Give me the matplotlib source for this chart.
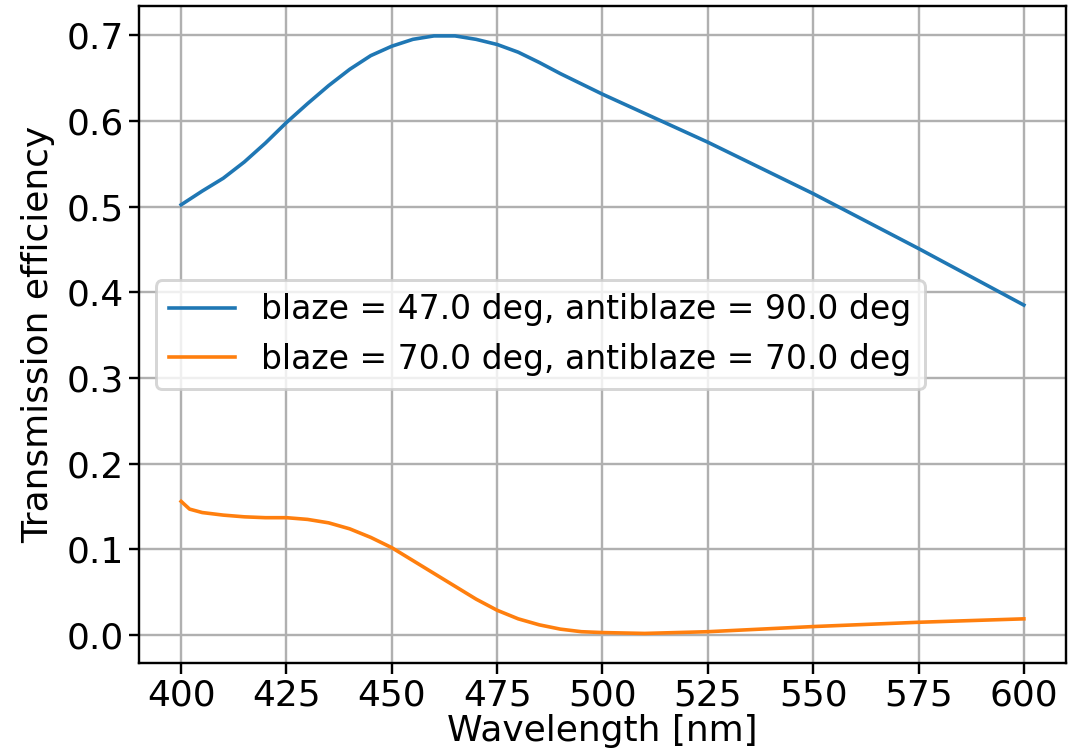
import matplotlib
matplotlib.use("Agg")
import matplotlib.pyplot as plt

# wavelengths [nm] and transmission efficiency
wl_a = [400, 405, 410, 415, 420, 425, 430, 435, 440, 445, 450, 455, 460, 465,
        470, 475, 480, 485, 490, 495, 500, 512.5, 525, 537.5, 550, 562.5,
        575, 587.5, 600]
eff_a = [0.502, 0.518, 0.533, 0.552, 0.574, 0.598, 0.620, 0.641, 0.660, 0.676,
         0.687, 0.695, 0.699, 0.699, 0.695, 0.689, 0.680, 0.668, 0.655, 0.643,
         0.631, 0.603, 0.575, 0.545, 0.515, 0.483, 0.451, 0.418, 0.385]

wl_b = [400, 402, 405, 410, 415, 420, 425, 430, 435, 440, 445, 450, 455, 460,
        465, 470, 475, 480, 485, 490, 495, 500, 510, 525, 550, 575, 600]
eff_b = [0.156, 0.147, 0.143, 0.140, 0.138, 0.137, 0.137, 0.135, 0.131, 0.124,
         0.114, 0.102, 0.087, 0.072, 0.057, 0.042, 0.029, 0.019, 0.012, 0.007,
         0.004, 0.003, 0.002, 0.004, 0.010, 0.015, 0.019]

labels = ["blaze = 47.0 deg, antiblaze = 90.0 deg",
          "blaze = 70.0 deg, antiblaze = 70.0 deg"]

plt.rcParams['font.size'] = 12
plt.rcParams['xtick.major.pad'] = 1.5
plt.rcParams['ytick.major.pad'] = 1.5

dpi = 216
fig = plt.figure(figsize=(1081 / dpi, 754 / dpi), dpi=dpi)
ax = fig.add_axes([0.1286, 0.1203, 0.8575, 0.8717])

ax.plot(wl_a, eff_a, lw=1.2, label=labels[0])
ax.plot(wl_b, eff_b, lw=1.2, label=labels[1])

ax.set_xlabel("Wavelength [nm]", labelpad=0.5)
ax.set_ylabel("Transmission efficiency")
ax.set_xticks([400, 425, 450, 475, 500, 525, 550, 575, 600])
ax.grid(True)
ax.legend(loc="center left", fontsize=11)

fig.savefig("out.png", dpi=dpi)
